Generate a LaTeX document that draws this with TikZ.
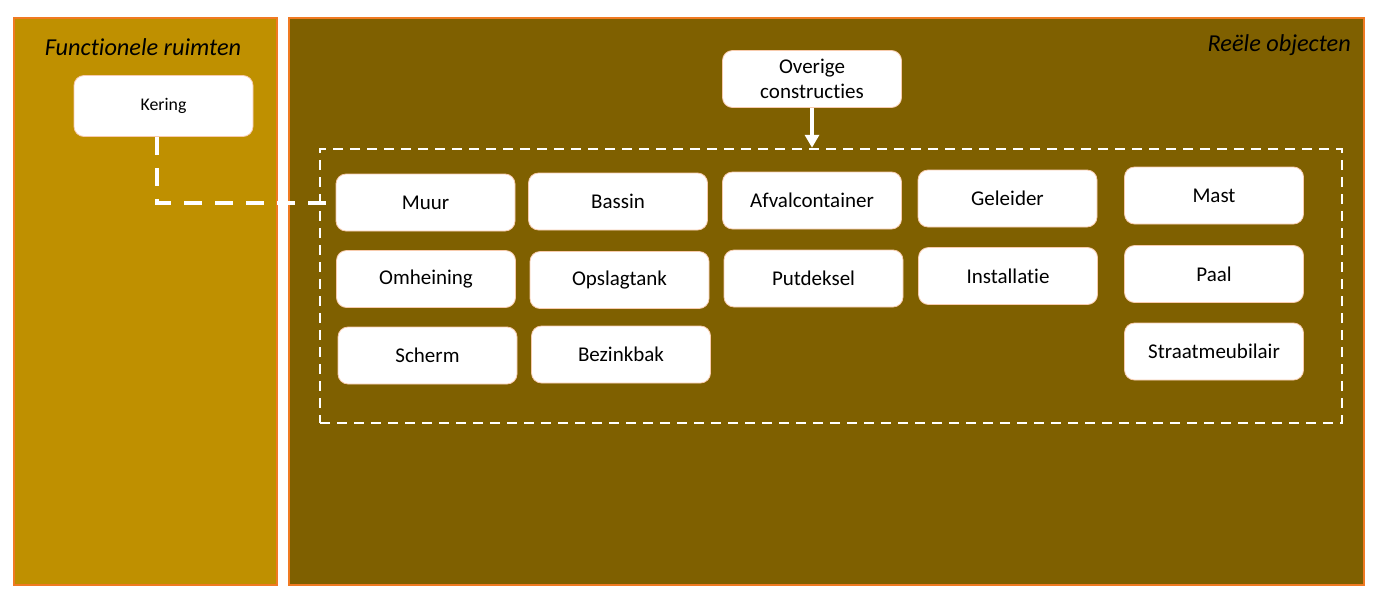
\documentclass[tikz,border=0pt]{standalone}
\usepackage{fontspec}
\setmainfont{Carlito}[Ligatures=NoCommon]
\usetikzlibrary{arrows.meta}
\definecolor{goldfill}{HTML}{BF9000}
\definecolor{brownfill}{HTML}{7F6000}
\definecolor{panelline}{HTML}{F07A22}
\definecolor{boxline}{HTML}{F8CBAD}
\tikzset{
  panel/.style={draw=panelline, line width=1.5pt, inner sep=0pt},
  objbox/.style={draw=boxline, line width=0.8pt, fill=white, rounded corners=10pt,
    minimum width=179pt, minimum height=57pt, inner sep=0pt,
    font=\fontsize{21}{24.5}\selectfont, align=center, text=black},
  titletext/.style={font=\fontsize{24.3}{28}\selectfont\itshape, text=black, inner sep=0pt},
  dashconn/.style={draw=white, line width=4pt, dash pattern=on 18pt off 13pt},
  groupbox/.style={draw=white, line width=2.5pt, dash pattern=on 10pt off 7pt, inner sep=0pt},
}
\begin{document}
\begin{tikzpicture}[x=1pt,y=-1pt]
\useasboundingbox[fill=white] (0,0) rectangle (1380,611);
% panels
\node[panel, fill=goldfill, minimum width=263pt, minimum height=567pt] (lp) at (145.5,301.5) {};
\node[panel, fill=brownfill, minimum width=1075pt, minimum height=567pt] (rp) at (826.5,301.5) {};
\node[titletext] (lt) at (143,47) {Functionele ruimten};
\node[titletext, anchor=east] (rt) at (1351,45) {Reële objecten};
% group box
\node[groupbox, minimum width=1022pt, minimum height=274pt] (dashbox) at (831,286) {};
% boxes
\node[objbox, font=\fontsize{17.8}{21}\selectfont, minimum height=61pt] (kering) at (163.5,106) {Kering};
\node[objbox] (overige) at (812,79) {Overige\\constructies};
\node[objbox] (muur) at (425.5,202.5) {Muur};
\node[objbox] (bassin) at (618,201.5) {Bassin};
\node[objbox] (afval) at (812,200.5) {Afvalcontainer};
\node[objbox] (geleider) at (1007.5,198.5) {Geleider};
\node[objbox] (mast) at (1214,195.5) {Mast};
\node[objbox] (omheining) at (426,279) {Omheining};
\node[objbox] (opslag) at (619.5,280) {Opslagtank};
\node[objbox] (putdeksel) at (813.5,278.5) {Putdeksel};
\node[objbox] (installatie) at (1008,276) {Installatie};
\node[objbox] (paal) at (1214,274) {Paal};
\node[objbox] (scherm) at (427.5,355.5) {Scherm};
\node[objbox] (bezink) at (621,354.5) {Bezinkbak};
\node[objbox] (straat) at (1214,351.5) {Straatmeubilair};
% connectors
\draw[dashconn] ([xshift=-6.5pt]kering.south) |- (muur.west);
\draw[white, line width=4.5pt, -{Triangle[width=14pt,length=13pt]}] (overige.south) -- (overige.south |- dashbox.north);
\end{tikzpicture}
\end{document}
